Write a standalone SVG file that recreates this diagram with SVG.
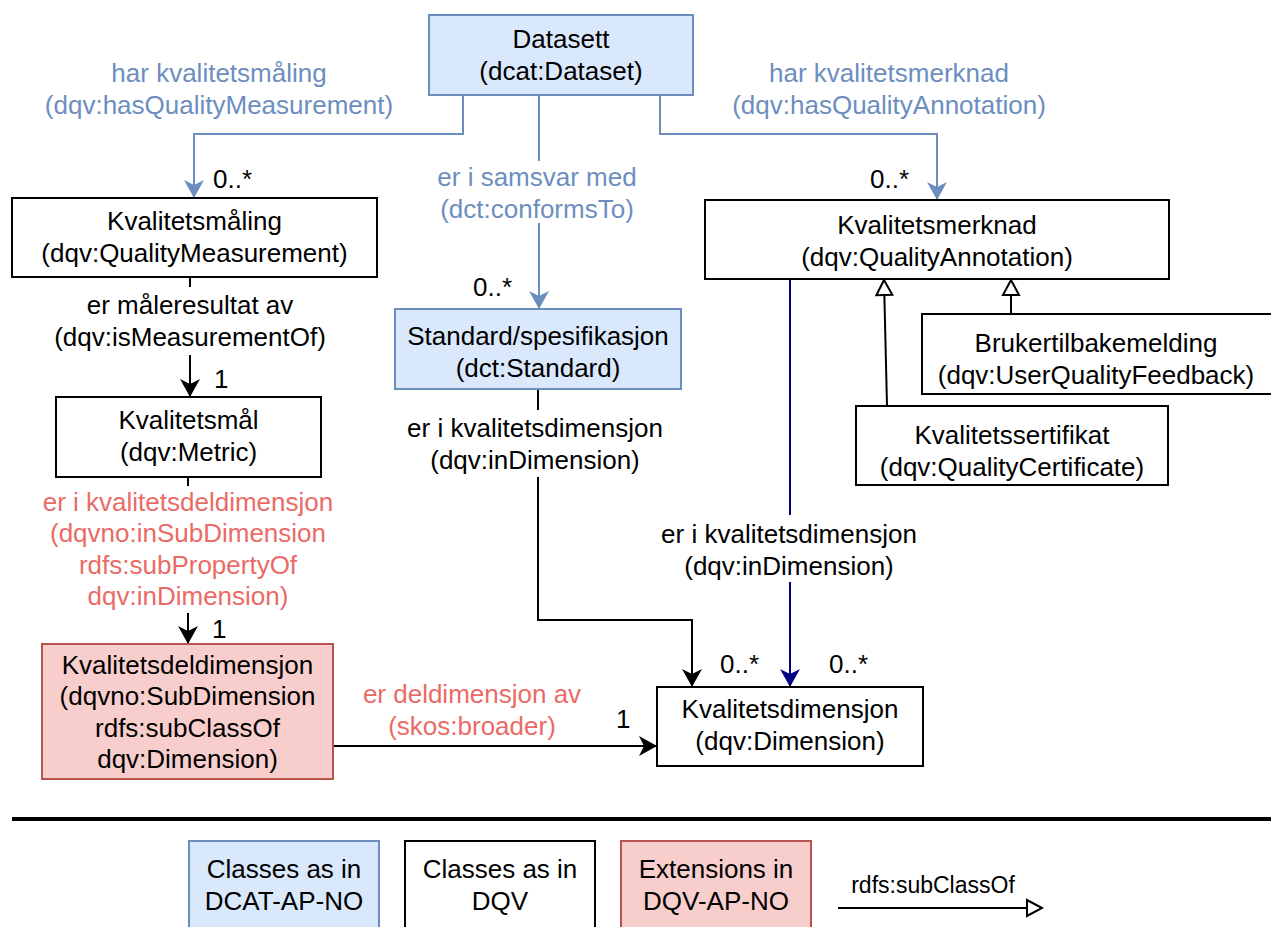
<svg xmlns="http://www.w3.org/2000/svg" width="1271" height="927" viewBox="0 0 1271 927">
<style>
.t{font-family:"Liberation Sans",Arial,sans-serif;font-size:26px;text-anchor:middle;fill:#000}
.s{text-anchor:start}
.bt{fill:#6c8ebf}
.rt{fill:#ea6b66}
.box{fill:#fff;stroke:#000;stroke-width:2}
.bl{fill:#dae8fc;stroke:#6c8ebf;stroke-width:2}
.rd{fill:#f8cecc;stroke:#b85450;stroke-width:2}
.e{fill:none;stroke-width:2}
.bg{fill:#fff}
</style>
<defs>
<marker id="aBlue" viewBox="-20 -11 22 22" refX="0" refY="0" markerWidth="22" markerHeight="22" markerUnits="userSpaceOnUse" orient="auto"><path d="M0,0 L-18,-10 L-13,0 L-18,10 Z" fill="#6c8ebf"/></marker>
<marker id="aBlack" viewBox="-20 -11 22 22" refX="0" refY="0" markerWidth="22" markerHeight="22" markerUnits="userSpaceOnUse" orient="auto"><path d="M0,0 L-18,-10 L-13,0 L-18,10 Z" fill="#000"/></marker>
<marker id="aNavy" viewBox="-20 -11 22 22" refX="0" refY="0" markerWidth="22" markerHeight="22" markerUnits="userSpaceOnUse" orient="auto"><path d="M0,0 L-18,-10 L-13,0 L-18,10 Z" fill="#000080"/></marker>
<marker id="aHollow" viewBox="-18 -10 20 20" refX="0" refY="0" markerWidth="20" markerHeight="20" markerUnits="userSpaceOnUse" orient="auto"><path d="M0,0 L-15,-8 L-15,8 Z" fill="#fff" stroke="#000" stroke-width="2"/></marker>
</defs>

<g id="connectors">
  <path class="e" stroke="#6c8ebf" d="M463,95 V134 H194 V198" marker-end="url(#aBlue)"/>
  <path class="e" stroke="#6c8ebf" d="M539,95 V309" marker-end="url(#aBlue)"/>
  <path class="e" stroke="#6c8ebf" d="M660,95 V134 H937 V200" marker-end="url(#aBlue)"/>
  <path class="e" stroke="#000" d="M190,277 V397" marker-end="url(#aBlack)"/>
  <path class="e" stroke="#000" d="M188,477 V644" marker-end="url(#aBlack)"/>
  <path class="e" stroke="#000" d="M538,389 V620 H692 V687" marker-end="url(#aBlack)"/>
  <path class="e" stroke="#000080" d="M790,279 V687" marker-end="url(#aNavy)"/>
  <path class="e" stroke="#000" d="M333,746 H657" marker-end="url(#aBlack)"/>
  <path class="e" stroke="#000" d="M887,406 L884,280" marker-end="url(#aHollow)"/>
  <path class="e" stroke="#000" d="M1011,314 V280" marker-end="url(#aHollow)"/>

  <g id="lbl-hasQM">
    <text class="t bt" x="219" y="82">har kvalitetsmåling</text>
    <text class="t bt" x="219" y="114">(dqv:hasQualityMeasurement)</text>
    <text class="t s" x="213" y="188">0..*</text>
  </g>
  <g id="lbl-conforms">
    <rect class="bg" x="430" y="161" width="215" height="62"/>
    <text class="t bt" x="537" y="186">er i samsvar med</text>
    <text class="t bt" x="537" y="218">(dct:conformsTo)</text>
    <text class="t s" x="473" y="296">0..*</text>
  </g>
  <g id="lbl-hasQA">
    <text class="t bt" x="889" y="82">har kvalitetsmerknad</text>
    <text class="t bt" x="889" y="114">(dqv:hasQualityAnnotation)</text>
    <text class="t s" x="870" y="188">0..*</text>
  </g>
  <g id="lbl-isMeasOf">
    <rect class="bg" x="80" y="287" width="220" height="68"/>
    <text class="t" x="190" y="314">er måleresultat av</text>
    <text class="t" x="190" y="346">(dqv:isMeasurementOf)</text>
    <text class="t s" x="214" y="388">1</text>
  </g>
  <g id="lbl-inSubDim">
    <rect class="bg" x="38" y="486" width="300" height="127"/>
    <text class="t rt" x="188" y="511">er i kvalitetsdeldimensjon</text>
    <text class="t rt" x="188" y="542">(dqvno:inSubDimension</text>
    <text class="t rt" x="188" y="574">rdfs:subPropertyOf</text>
    <text class="t rt" x="188" y="605">dqv:inDimension)</text>
    <text class="t s" x="212" y="638">1</text>
  </g>
  <g id="lbl-inDim1">
    <rect class="bg" x="400" y="410" width="270" height="67"/>
    <text class="t" x="535" y="437">er i kvalitetsdimensjon</text>
    <text class="t" x="535" y="469">(dqv:inDimension)</text>
    <text class="t s" x="720" y="673">0..*</text>
  </g>
  <g id="lbl-inDim2">
    <rect class="bg" x="652" y="515" width="276" height="67"/>
    <text class="t" x="789" y="543">er i kvalitetsdimensjon</text>
    <text class="t" x="789" y="575">(dqv:inDimension)</text>
    <text class="t s" x="829" y="673">0..*</text>
  </g>
  <g id="lbl-broader">
    <text class="t rt" x="472" y="703">er deldimensjon av</text>
    <text class="t rt" x="472" y="735">(skos:broader)</text>
    <text class="t s" x="616" y="728">1</text>
  </g>
</g>

<g id="n-datasett">
  <rect class="bl" x="429" y="15" width="264" height="80"/>
  <text class="t" x="561" y="48">Datasett</text>
  <text class="t" x="561" y="80">(dcat:Dataset)</text>
</g>
<g id="n-kvalitetsmaling">
  <rect class="box" x="12" y="198" width="365" height="79"/>
  <text class="t" x="194.5" y="230">Kvalitetsmåling</text>
  <text class="t" x="194.5" y="262">(dqv:QualityMeasurement)</text>
</g>
<g id="n-standard">
  <rect class="bl" x="395" y="309" width="286" height="80"/>
  <text class="t" x="538" y="345">Standard/spesifikasjon</text>
  <text class="t" x="538" y="377">(dct:Standard)</text>
</g>
<g id="n-kvalitetsmal">
  <rect class="box" x="56" y="397" width="265" height="80"/>
  <text class="t" x="188.5" y="429">Kvalitetsmål</text>
  <text class="t" x="188.5" y="461">(dqv:Metric)</text>
</g>
<g id="n-deldimensjon">
  <rect class="rd" x="42" y="644" width="291" height="135"/>
  <text class="t" x="187.5" y="674">Kvalitetsdeldimensjon</text>
  <text class="t" x="187.5" y="705">(dqvno:SubDimension</text>
  <text class="t" x="187.5" y="737">rdfs:subClassOf</text>
  <text class="t" x="187.5" y="768">dqv:Dimension)</text>
</g>
<g id="n-merknad">
  <rect class="box" x="705" y="200" width="464" height="79"/>
  <text class="t" x="937" y="234">Kvalitetsmerknad</text>
  <text class="t" x="937" y="266">(dqv:QualityAnnotation)</text>
</g>
<g id="n-bruker">
  <rect class="box" x="922" y="314" width="362" height="80"/>
  <text class="t" x="1096" y="352">Brukertilbakemelding</text>
  <text class="t" x="1096" y="384">(dqv:UserQualityFeedback)</text>
</g>
<g id="n-sertifikat">
  <rect class="box" x="856" y="406" width="312" height="79"/>
  <text class="t" x="1012" y="444">Kvalitetssertifikat</text>
  <text class="t" x="1012" y="476">(dqv:QualityCertificate)</text>
</g>
<g id="n-dimensjon">
  <rect class="box" x="657" y="687" width="266" height="79"/>
  <text class="t" x="790" y="718">Kvalitetsdimensjon</text>
  <text class="t" x="790" y="750">(dqv:Dimension)</text>
</g>

<g id="legend">
  <path d="M12,819 H1271" stroke="#000" stroke-width="4" fill="none"/>
  <rect class="bl" x="189" y="841" width="190" height="95"/>
  <text class="t" x="284" y="878">Classes as in</text>
  <text class="t" x="284" y="910">DCAT-AP-NO</text>
  <rect class="box" x="405" y="841" width="190" height="95"/>
  <text class="t" x="500" y="878">Classes as in</text>
  <text class="t" x="500" y="910">DQV</text>
  <rect class="rd" x="621" y="841" width="190" height="95"/>
  <text class="t" x="716" y="878">Extensions in</text>
  <text class="t" x="716" y="910">DQV-AP-NO</text>
  <text class="t" x="933" y="893" style="font-size:23px">rdfs:subClassOf</text>
  <path class="e" stroke="#000" d="M838,908 H1042" marker-end="url(#aHollow)"/>
</g>
</svg>
